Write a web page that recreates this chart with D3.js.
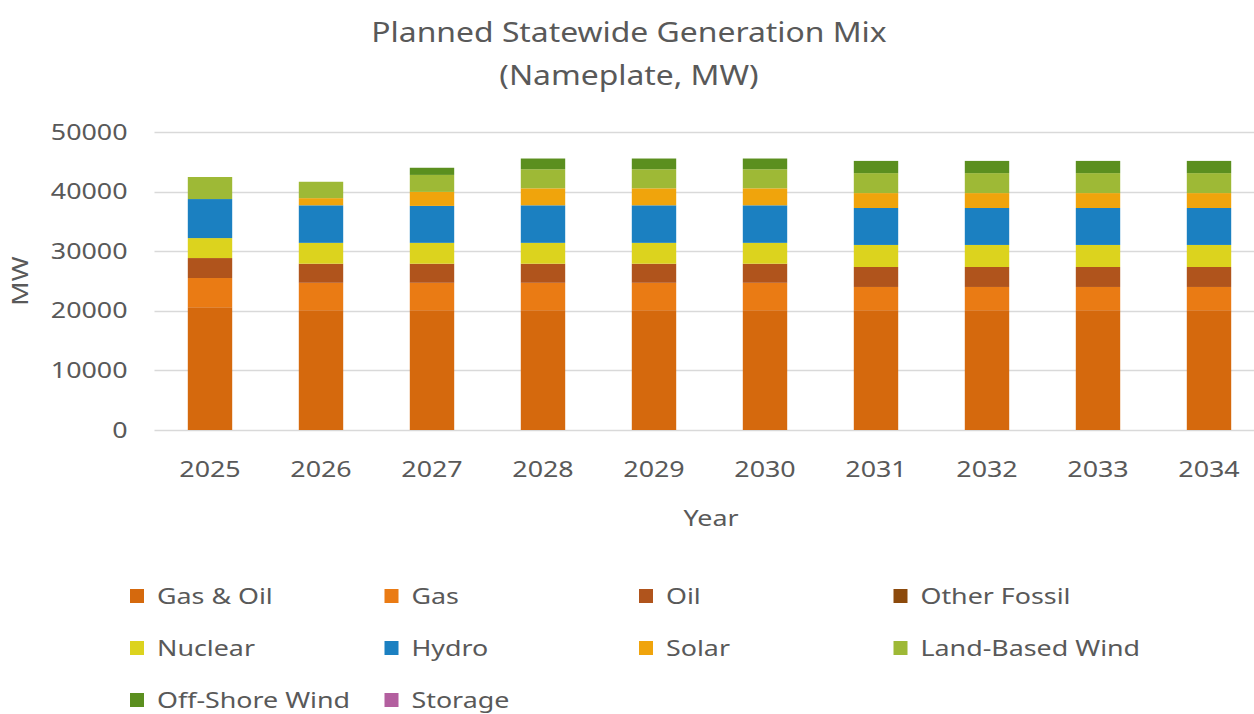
<!DOCTYPE html>
<html>
<head>
<meta charset="utf-8">
<script src="https://cdn.jsdelivr.net/npm/d3@7"></script>
<style>
  body { margin: 0; background: #ffffff; }
  text { font-family: "Noto Sans", sans-serif; fill: #595959; }
</style>
</head>
<body>
<svg id="chart" width="1254" height="714"></svg>
<script>
// Planned nameplate capacity by resource type, MW
const years = ["2025", "2026", "2027", "2028", "2029", "2030", "2031", "2032", "2033", "2034"];

const seriesNames = ["Gas & Oil", "Gas", "Oil", "Other Fossil", "Nuclear", "Hydro",
                     "Solar", "Land-Based Wind", "Off-Shore Wind", "Storage"];
const seriesColors = ["#d5690d", "#ea7b14", "#b0541c", "#8c4a0c", "#dcd31e", "#1b80c1",
                      "#f0a40c", "#9eb936", "#5b8f1f", "#b35f9f"];

const gasAndOil    = [20600, 20100, 20100, 20100, 20100, 20100, 20100, 20100, 20100, 20100];
const gas          = [4900, 4600, 4600, 4600, 4600, 4600, 3900, 3900, 3900, 3900];
const oil          = [3350, 3200, 3200, 3200, 3200, 3200, 3350, 3350, 3350, 3350];
const otherFossil  = [0, 0, 0, 0, 0, 0, 0, 0, 0, 0];
const nuclear      = [3350, 3500, 3500, 3500, 3500, 3500, 3700, 3700, 3700, 3700];
const hydro        = [6550, 6300, 6200, 6300, 6300, 6300, 6200, 6200, 6200, 6200];
const solar        = [0, 1200, 2350, 2850, 2850, 2850, 2500, 2500, 2500, 2500];
const landWind     = [3700, 2750, 2850, 3200, 3200, 3200, 3350, 3350, 3350, 3350];
const offshoreWind = [0, 0, 1200, 1800, 1800, 1800, 2050, 2050, 2050, 2050];
const storage      = [0, 0, 0, 0, 0, 0, 0, 0, 0, 0];

const yTicks = [0, 10000, 20000, 30000, 40000, 50000];

const seriesValues = [gasAndOil, gas, oil, otherFossil, nuclear, hydro,
                      solar, landWind, offshoreWind, storage];

// one row per year for d3.stack
const rows = years.map((yr, i) => {
  const r = { year: yr };
  seriesNames.forEach((name, s) => { r[name] = seriesValues[s][i]; });
  return r;
});

const svg = d3.select("#chart");
const W = 1254;
const sx = 1.22;       // horizontal widening applied to labels
const sxTitle = 1.18;  // widening for the title lines

const plotLeft = 154.5, plotRight = 1264.5, plotTop = 132, plotBottom = 430;

const x = d3.scaleBand().domain(years).range([plotLeft, plotRight])
  .paddingInner(0.6).paddingOuter(0.3);
const y = d3.scaleLinear().domain([0, 50000]).range([plotBottom, plotTop]);
const color = d3.scaleOrdinal().domain(seriesNames).range(seriesColors);

function wide(sel, k = sx) {
  // widen text around its own anchor point
  sel.each(function () {
    const t = d3.select(this);
    const tx = +t.attr("x") || 0;
    const ty = +t.attr("y") || 0;
    t.attr("x", 0).attr("y", 0)
     .attr("transform", `translate(${tx},${ty}) scale(${k},1)`);
  });
}

// horizontal gridlines
svg.append("g").selectAll("line").data(yTicks).join("line")
  .attr("x1", plotLeft).attr("x2", W)
  .attr("y1", d => Math.round(y(d)) + 0.5).attr("y2", d => Math.round(y(d)) + 0.5)
  .attr("stroke", "#d9d9d9").attr("stroke-width", 1.3);

// y axis labels
const yAxis = svg.append("g").attr("transform", `translate(${plotLeft},0)`)
  .call(d3.axisLeft(y).tickValues(yTicks).tickSize(0).tickPadding(27).tickFormat(d3.format("d")));
yAxis.select(".domain").remove();
yAxis.selectAll("text").attr("font-size", 22).attr("fill", "#595959")
  .style("font-family", "'Noto Sans', sans-serif")
  .each(function () {
    const t = d3.select(this);
    t.attr("x", (+t.attr("x")) / sx).attr("transform", `scale(${sx},1)`);
  });

// stacked bars
const stacked = d3.stack().keys(seriesNames)(rows);
svg.append("g").selectAll("g").data(stacked).join("g")
  .attr("fill", d => color(d.key))
  .selectAll("rect").data(d => d).join("rect")
  .attr("x", d => x(d.data.year))
  .attr("width", x.bandwidth())
  .attr("y", d => y(d[1]))
  .attr("height", d => Math.max(0, y(d[0]) - y(d[1])));

// x axis labels
const xAxis = svg.append("g").attr("transform", `translate(0,${plotBottom})`)
  .call(d3.axisBottom(x).tickSize(0).tickPadding(31));
xAxis.select(".domain").remove();
xAxis.selectAll("text").attr("font-size", 22).attr("fill", "#595959")
  .style("font-family", "'Noto Sans', sans-serif")
  .attr("transform", `scale(${sx},1)`);

// title
const title = svg.append("g");
title.append("text").attr("x", 629).attr("y", 42).attr("text-anchor", "middle")
  .attr("font-size", 27).text("Planned Statewide Generation Mix").call(wide, sxTitle);
title.append("text").attr("x", 629).attr("y", 85).attr("text-anchor", "middle")
  .attr("font-size", 27).text("(Nameplate, MW)").call(wide, sxTitle);

// axis titles
svg.append("text").attr("x", 711).attr("y", 526).attr("text-anchor", "middle")
  .attr("font-size", 22).text("Year").call(wide);
svg.append("text").attr("text-anchor", "middle").attr("font-size", 22)
  .attr("transform", `translate(28,281) rotate(-90) scale(${sx},1)`).text("MW");

// legend
const legend = svg.append("g");
const items = legend.selectAll("g").data(seriesNames).join("g")
  .attr("transform", (d, i) => `translate(${130 + (i % 4) * 254.5},${596 + Math.floor(i / 4) * 52})`);
items.append("rect").attr("x", 0).attr("y", -7).attr("width", 14).attr("height", 14)
  .attr("fill", d => color(d));
items.append("text").attr("x", 27).attr("y", 8).attr("font-size", 22)
  .text(d => d).call(wide);
</script>
</body>
</html>
